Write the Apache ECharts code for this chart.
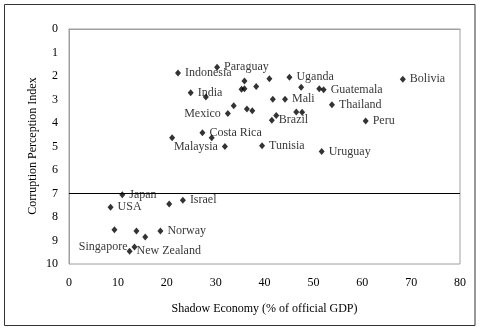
<!DOCTYPE html>
<html>
<head>
<meta charset="utf-8">
<script src="https://cdn.jsdelivr.net/npm/echarts@6/dist/echarts.min.js"></script>
<style>html,body{margin:0;padding:0;background:#fff}#c{width:480px;height:332px}</style>
</head>
<body>
<div id="c"></div>
<script>
// Data
var countries = ['Paraguay','Indonesia','','','Uganda','','','','','','Guatemala','Bolivia','India','','','Mali','Thailand','','','','Mexico','','','','Brazil','Peru','Costa Rica','','','Malaysia','Tunisia','Uruguay','Japan','Israel','','USA','','','Norway','','Singapore','New Zealand'];
var shadowEconomy = [30.3,22.3,35.9,41.0,45.1,38.3,35.3,35.9,47.5,51.2,52.1,68.3,24.9,28.0,41.7,44.2,53.8,33.7,36.4,37.5,32.5,46.5,47.7,42.4,41.5,60.7,27.3,29.2,21.1,31.9,39.5,51.7,10.9,23.3,20.5,8.5,9.3,13.8,18.7,15.6,13.4,12.4];
var cpi = [1.63,1.87,2.21,2.12,2.05,2.45,2.56,2.54,2.48,2.54,2.58,2.14,2.71,2.89,2.99,2.99,3.22,3.27,3.40,3.48,3.60,3.53,3.54,3.68,3.88,3.91,4.42,4.63,4.63,5.0,4.97,5.21,7.05,7.29,7.45,7.58,8.54,8.60,8.60,8.85,9.28,9.46];
var labelSide = ['right','right','right','right','right','right','right','right','right','right','right','right','right','right','right','right','right','right','right','right','left','right','right','right','right','right','right','right','right','left','right','right','right','right','right','right','right','right','right','right','left','right'];
var xTicks = [0,10,20,30,40,50,60,70,80];
var yTicks = [0,1,2,3,4,5,6,7,8,9,10];
var thresholdCPI = 7;

var font = 'Liberation Serif, Times New Roman, serif';
var data = shadowEconomy.map(function(x,i){
  return {
    value:[x, cpi[i]],
    name: countries[i],
    label:{show: countries[i] !== '', position: labelSide[i], formatter: countries[i]}
  };
});

var chart = echarts.init(document.getElementById('c'), null, {renderer:'canvas'});
chart.setOption({
  animation:false,
  backgroundColor:'#fff',
  grid:{left:69, top:29, right:20, bottom:68, show:true, borderColor:'#a0a0a0', borderWidth:1},
  xAxis:{
    type:'value', min:xTicks[0], max:xTicks[xTicks.length-1], interval:10,
    axisLine:{show:true, lineStyle:{color:'#a0a0a0'}},
    axisTick:{show:false}, splitLine:{show:false},
    axisLabel:{color:'#000', fontFamily:font, fontSize:12, margin:13}
  },
  yAxis:{
    type:'value', inverse:true, min:yTicks[0], max:yTicks[yTicks.length-1], interval:1,
    axisLine:{show:true, lineStyle:{color:'#a0a0a0'}},
    axisTick:{show:false}, splitLine:{show:false},
    axisLabel:{color:'#000', fontFamily:font, fontSize:12, margin:11}
  },
  series:[{
    type:'scatter',
    symbol:'diamond',
    symbolSize:[6,7],
    itemStyle:{color:'#000'},
    label:{color:'#000', fontFamily:font, fontSize:12, distance:4, offset:[0,1]},
    labelLayout:{hideOverlap:false},
    data:data,
    markLine:{
      silent:true, symbol:'none', label:{show:false},
      lineStyle:{color:'#000', width:1, type:'solid'},
      data:[{yAxis:thresholdCPI}]
    }
  }],
  graphic:[
    {type:'rect', shape:{x:4.5, y:4.5, width:470.5, height:321}, style:{fill:'none', stroke:'#333', lineWidth:1}, z:-1},
    {type:'text', x:264.5, y:309, style:{text:'Shadow Economy (% of official GDP)', font:'12px '+font, fill:'#000', align:'center', verticalAlign:'middle'}},
    {type:'text', x:33, y:146, rotation:Math.PI/2, style:{text:'Corruption Perception Index', font:'12px '+font, fill:'#000', align:'center', verticalAlign:'middle'}}
  ]
});
</script>
</body>
</html>
